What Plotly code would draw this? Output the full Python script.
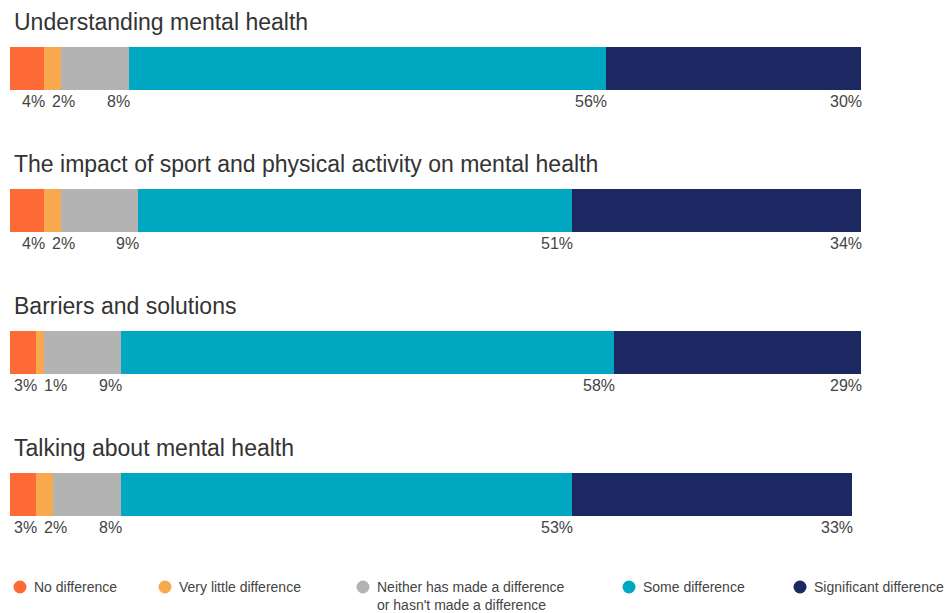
import numpy as np
import plotly.graph_objects as go

# Survey topics (one stacked bar each, top to bottom)
topics = [
    "Understanding mental health",
    "The impact of sport and physical activity on mental health",
    "Barriers and solutions",
    "Talking about mental health",
]

# Response categories, in stacking order
responses = [
    "No difference",
    "Very little difference",
    "Neither has made a difference<br>or hasn't made a difference",
    "Some difference",
    "Significant difference",
]
colors = ["#FE6A35", "#F8A94E", "#B3B3B3", "#00A7C1", "#1C2862"]

# Percentages per response (rows follow `responses`, columns follow `topics`)
no_difference = [4, 4, 3, 3]
very_little = [2, 2, 1, 2]
neither = [8, 9, 9, 8]
some_difference = [56, 51, 58, 53]
significant = [30, 34, 29, 33]

series = [no_difference, very_little, neither, some_difference, significant]

# Layout geometry
FIG_W, FIG_H = 951, 613
M_L, M_R, M_T, M_B = 10, 90, 0, 43
PLOT_W = FIG_W - M_L - M_R
PLOT_H = FIG_H - M_T - M_B
PX_PER_ROW = 142.0
FIRST_ROW_PX = 68.5
y_top = -FIRST_ROW_PX / PX_PER_ROW
y_bottom = y_top + PLOT_H / PX_PER_ROW
px_per_unit = PLOT_W / 100.0

TEXT_DARK = "#333333"
TEXT_MID = "#444444"
FONT = "Liberation Sans, Arial, sans-serif"

rows = list(range(len(topics)))

fig = go.Figure()
for name, vals, col in zip(responses, series, colors):
    fig.add_trace(
        go.Bar(
            x=vals,
            y=rows,
            orientation="h",
            name=name.replace("<br>", " "),
            marker=dict(color=col, line=dict(width=0)),
            width=43 / PX_PER_ROW,
            showlegend=False,
            hoverinfo="x+name",
        )
    )

annotations = []

# Topic headings above the bars
for r, t in zip(rows, topics):
    annotations.append(
        dict(
            x=0, y=r - 0.33, xref="x", yref="y",
            text=t, showarrow=False, xanchor="left", yanchor="middle",
            xshift=2,
            font=dict(family=FONT, size=23, color=TEXT_DARK),
        )
    )

# Percentage labels under each segment end, nudged right to avoid overlaps
label_font = 16
char_w = 0.56 * label_font
gap_units = 7 / px_per_unit
vals = np.array(series)
for r in rows:
    cum = np.cumsum(vals[:, r])
    prev_right = None
    for k in range(len(series)):
        txt = f"{vals[k, r]}%"
        width_units = (len(txt) - 1) * char_w / px_per_unit + 0.89 * label_font / px_per_unit
        right = cum[k]
        if prev_right is not None:
            right = max(right, prev_right + gap_units + width_units)
        prev_right = right
        annotations.append(
            dict(
                x=right, y=r + 0.232, xref="x", yref="y",
                text=txt, showarrow=False, xanchor="right", yanchor="middle",
                xshift=3,
                font=dict(family=FONT, size=label_font, color=TEXT_MID),
            )
        )

# Legend along the bottom: circle swatch + label
legend_x_px = [20, 165, 363, 629, 800]
legend_y_px = 587
shapes = []
for name, col, xp in zip(responses, colors, legend_x_px):
    xpaper = (xp - M_L) / PLOT_W
    ypaper = (PLOT_H - (legend_y_px - M_T)) / PLOT_H
    shapes.append(
        dict(
            type="circle", xref="paper", yref="paper",
            xsizemode="pixel", ysizemode="pixel",
            xanchor=xpaper, yanchor=ypaper,
            x0=-6.5, x1=6.5, y0=-6.5, y1=6.5,
            fillcolor=col, line=dict(width=0),
        )
    )
    annotations.append(
        dict(
            x=(xp + 12 - M_L) / PLOT_W,
            y=(PLOT_H - (legend_y_px - 10 - M_T)) / PLOT_H,
            xref="paper", yref="paper",
            text=name, showarrow=False, xanchor="left", yanchor="top",
            align="left",
            font=dict(family=FONT, size=14, color=TEXT_MID),
        )
    )

fig.update_layout(
    width=FIG_W,
    height=FIG_H,
    margin=dict(l=M_L, r=M_R, t=M_T, b=M_B),
    paper_bgcolor="white",
    plot_bgcolor="white",
    barmode="stack",
    bargap=0,
    xaxis=dict(range=[0, 100], visible=False, fixedrange=True),
    yaxis=dict(range=[y_bottom, y_top], visible=False, fixedrange=True),
    annotations=annotations,
    shapes=shapes,
    font=dict(family=FONT),
)

fig.write_html("out.html")
